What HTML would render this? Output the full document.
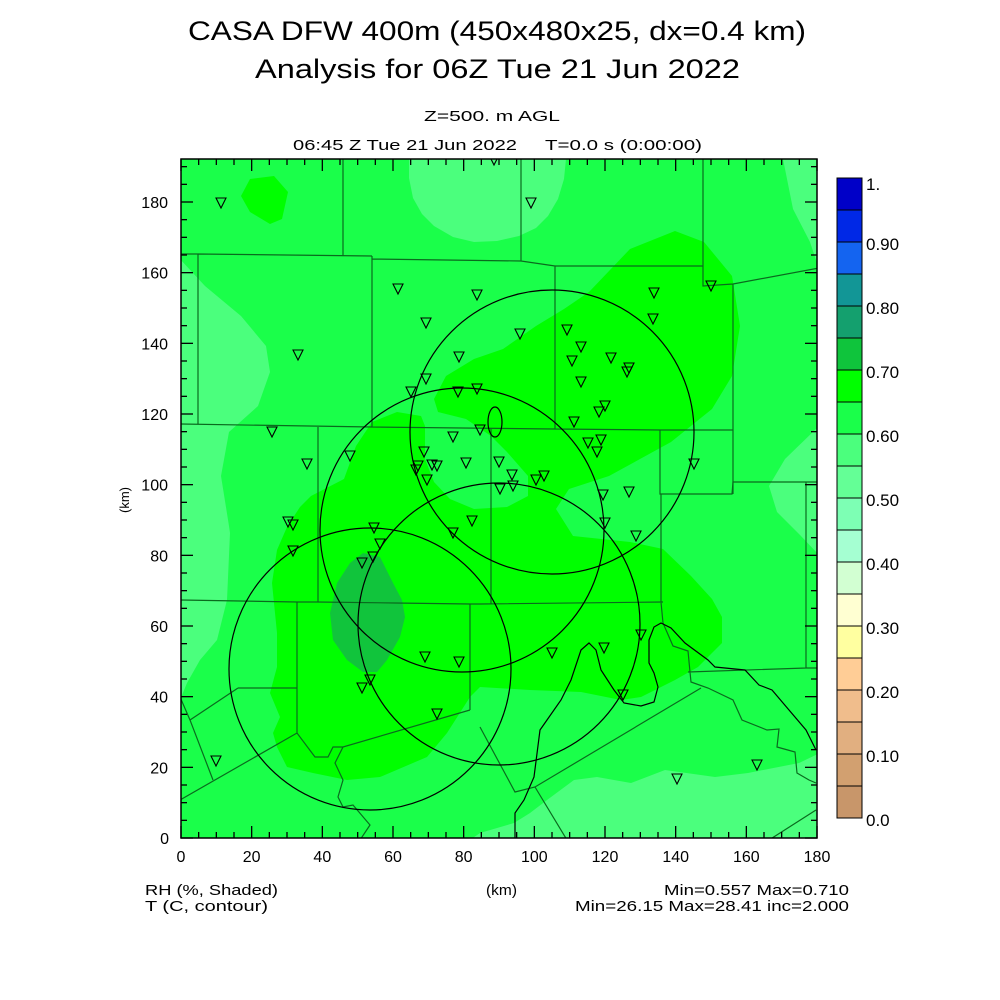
<!DOCTYPE html>
<html><head><meta charset="utf-8"><style>body{margin:0;background:#fff}svg{display:block}</style></head>
<body>
<svg width="1000" height="1000" viewBox="0 0 1000 1000" xmlns="http://www.w3.org/2000/svg" font-family="Liberation Sans, sans-serif">
<rect width="1000" height="1000" fill="#fff"/>
<g font-weight="normal" fill="#000">
<text x="188" y="40" font-size="27" textLength="618" lengthAdjust="spacingAndGlyphs">CASA DFW 400m (450x480x25, dx=0.4 km)</text>
<text x="255" y="78" font-size="27" textLength="485" lengthAdjust="spacingAndGlyphs">Analysis for 06Z Tue 21 Jun 2022</text>
<text x="424" y="121" font-size="15" textLength="136" lengthAdjust="spacingAndGlyphs">Z=500. m AGL</text>
<text x="293" y="150" font-size="15" textLength="224" lengthAdjust="spacingAndGlyphs">06:45 Z Tue 21 Jun 2022</text>
<text x="545" y="150" font-size="15" textLength="157" lengthAdjust="spacingAndGlyphs">T=0.0 s (0:00:00)</text>
</g>
<defs><clipPath id="pc"><rect x="181" y="159" width="636" height="679"/></clipPath></defs>
<g clip-path="url(#pc)">
<rect x="181" y="159" width="636" height="679" fill="#1aff4a"/>
<g fill="#4bff7d">
<path d="M409,159 L409,178 L413,198 L422,214 L434,226 L453,237 L474,242 L497,241 L519,236 L536,228 L548,216 L558,199 L564,179 L566,159Z"/>
<path d="M180,259 L205,286 L241,316 L266,346 L270,372 L258,406 L229,432 L221,476 L229,526 L230,533 L227,600 L217,640 L200,660 L187,683 L180,700Z"/>
<path d="M783,159 L793,209 L810,242 L819,269 L819,159Z"/>
<path d="M819,426 L785,459 L769,486 L777,512 L800,535 L819,555Z"/>
<path d="M820,753 L799,763 L748,773 L715,777 L665,770 L631,783 L597,777 L574,780 L547,800 L530,813 L514,823 L480,833 L470,840 L820,840Z"/>
</g>
<g fill="#00ff00">
<path d="M250,179 L274,176 L288,192 L282,219 L270,224 L250,212 L241,196Z"/>
<path d="M675,231 L704,242 L732,276 L740,326 L732,376 L712,409 L671,442 L609,476 L569,489 L556,509 L573,536 L630,542 L663,549 L691,576 L712,599 L722,617 L722,643 L698,667 L675,680 L641,697 L621,700 L581,692 L530,690 L480,687 L470,697 L447,733 L427,757 L380,777 L347,780 L313,773 L287,767 L277,747 L273,733 L280,717 L270,693 L277,667 L277,633 L272,583 L277,550 L287,527 L300,507 L311,496 L344,479 L356,446 L372,422 L397,412 L421,416 L425,426 L425,459 L434,482 L450,499 L474,509 L507,507 L528,496 L528,476 L507,452 L491,436 L466,419 L438,412 L434,399 L446,376 L474,359 L503,349 L536,326 L564,309 L589,292 L630,249Z"/>
</g>
<path fill="#11c43c" d="M363,553 L380,557 L393,583 L402,600 L405,617 L400,637 L387,660 L377,672 L363,672 L347,660 L333,640 L330,613 L337,583 L350,563Z"/>
<g fill="none" stroke="#0a6a1e" stroke-width="1.2">
<path d="M343,159 L343,256 M180,254 L198,254 L372,256 M372,259 L521,261 L555,266 L703,266 M521,159 L521,261 M372,256 L372,427 M555,266 L555,429 M703,159 L703,286 L733,284 L819,268 M733,284 L733,494 M198,254 L198,424 M180,424 L372,427 L555,429 L660,430 L733,430"/>
<path d="M318,427 L318,602 M491,429 L491,604 M660,430 L660,494 L732,494 L733,482 L806,482 L819,482 M806,482 L806,668 M480,604 L663,602 M661,494 L661,602 L663,623 L673,646 L688,651 L690,672 L691,682 L708,688 L733,700 L742,720 L767,730 L779,729 L777,747 L795,752 L797,773 L809,780 L816,783 M688,672 L806,668 L819,668"/>
<path d="M701,688 L535,787 L515,792 L480,727 M535,787 L567,840 M769,840 L816,810"/>
<path d="M180,600 L240,601 L297,602 L317,602 L395,603 L470,604 L480,604 M297,602 L297,733 M470,604 L470,710 M238,688 L297,688 M238,688 L190,720 L213,780 M180,697 L190,720 M180,800 L297,733 L315,757 L328,757 L333,747 L343,747 L470,710 M343,747 L335,763 L343,780 L338,797 L343,807 L353,805 L370,825 L360,840"/>
</g>
<g fill="none" stroke="#000" stroke-width="1.2">
<circle cx="370" cy="669" r="141"/>
<circle cx="499" cy="624" r="141"/>
<circle cx="462" cy="530" r="142"/>
<circle cx="552" cy="432" r="142"/>
<ellipse cx="495" cy="422" rx="7" ry="15"/>
<path d="M515,840 L515,813 L524,800 L534,777 L540,730 L547,720 L561,700 L571,680 L581,650 L589,643 L596,650 L601,670 L614,690 L624,703 L641,706 L654,702 L658,687 L654,673 L649,663 L649,640 L654,627 L661,623 L671,628 L685,643 L708,660 L715,667 L745,670 L759,685 L772,690 L789,710 L806,730 L816,750"/>
</g>
<g fill="none" stroke="#000" stroke-width="1.1" id="tris"></g>
</g>
<rect x="181" y="159" width="636" height="679" fill="none" stroke="#000" stroke-width="1.5"/>
<g stroke="#000" stroke-width="1.3" id="ticks"></g>
<g font-size="15" fill="#000" id="labels"></g>
<g>
<rect x="837" y="178" width="25" height="32" fill="#0000c8"/>
<rect x="837" y="210" width="25" height="32" fill="#0028e6"/>
<rect x="837" y="242" width="25" height="32" fill="#1464f0"/>
<rect x="837" y="274" width="25" height="32" fill="#129696"/>
<rect x="837" y="306" width="25" height="32" fill="#14a06e"/>
<rect x="837" y="338" width="25" height="32" fill="#0fc43c"/>
<rect x="837" y="370" width="25" height="32" fill="#00ff00"/>
<rect x="837" y="402" width="25" height="32" fill="#1aff4a"/>
<rect x="837" y="434" width="25" height="32" fill="#4bff7d"/>
<rect x="837" y="466" width="25" height="32" fill="#64ff96"/>
<rect x="837" y="498" width="25" height="32" fill="#7dffb4"/>
<rect x="837" y="530" width="25" height="32" fill="#a5ffd2"/>
<rect x="837" y="562" width="25" height="32" fill="#d2ffd2"/>
<rect x="837" y="594" width="25" height="32" fill="#ffffd2"/>
<rect x="837" y="626" width="25" height="32" fill="#ffffa0"/>
<rect x="837" y="658" width="25" height="32" fill="#ffcd96"/>
<rect x="837" y="690" width="25" height="32" fill="#f0bd8c"/>
<rect x="837" y="722" width="25" height="32" fill="#e1af80"/>
<rect x="837" y="754" width="25" height="32" fill="#d2a070"/>
<rect x="837" y="786" width="25" height="32" fill="#c8966a"/>
<g stroke="#000" stroke-width="1" fill="none" id="cbl"><rect x="837" y="178" width="25" height="640"/></g>
<g font-size="17" fill="#000">
<text x="866" y="190">1.</text>
<text x="866" y="250">0.90</text>
<text x="866" y="314">0.80</text>
<text x="866" y="378">0.70</text>
<text x="866" y="442">0.60</text>
<text x="866" y="506">0.50</text>
<text x="866" y="570">0.40</text>
<text x="866" y="634">0.30</text>
<text x="866" y="698">0.20</text>
<text x="866" y="762">0.10</text>
<text x="866" y="826">0.0</text>
</g>
</g>
<g font-size="15" fill="#000">
<text x="169" y="844" font-size="16" text-anchor="end">0</text>
<text x="117" y="512" font-size="13" transform="rotate(-90 117 500)" text-anchor="middle">(km)</text>
<text x="145" y="895" textLength="133" lengthAdjust="spacingAndGlyphs">RH (%, Shaded)</text>
<text x="145" y="911" textLength="123" lengthAdjust="spacingAndGlyphs">T (C, contour)</text>
<text x="486" y="895" textLength="31" lengthAdjust="spacingAndGlyphs">(km)</text>
<text x="664" y="895" textLength="185" lengthAdjust="spacingAndGlyphs">Min=0.557 Max=0.710</text>
<text x="575" y="911" textLength="274" lengthAdjust="spacingAndGlyphs">Min=26.15 Max=28.41 inc=2.000</text>
</g>
<script>
(function(){
var ns="http://www.w3.org/2000/svg";
function el(t,a,p){var e=document.createElementNS(ns,t);for(var k in a)e.setAttribute(k,a[k]);p.appendChild(e);return e;}
var tk=document.getElementById("ticks"),lb=document.getElementById("labels");
var s=636/180;
for(var k=0;k<=180;k+=5){var x=181+k*s,L=(k%20==0)?12:6;
el("line",{x1:x,y1:838,x2:x,y2:838-L},tk);el("line",{x1:x,y1:159,x2:x,y2:159+L},tk);}
for(var k=0;k<=192;k+=5){var y=838-k*s;if(y<159)break;var L=(k%20==0)?12:6;
el("line",{x1:181,y1:y,x2:181+L,y2:y},tk);el("line",{x1:817,y1:y,x2:817-L,y2:y},tk);}
for(var k=0;k<=180;k+=20){var x=181+k*s;var t=el("text",{x:x,y:862,"text-anchor":"middle","font-size":"16"},lb);t.textContent=k;}
for(var k=20;k<=180;k+=20){var y=838-k*s;var t=el("text",{x:168,y:y+6,"text-anchor":"end","font-size":"16"},lb);t.textContent=k;}
var tr=document.getElementById("tris");
var P=[[221,203],[531,203],[494,160],[298,355],[398,289],[477,295],[426,323],[459,357],[520,334],[567,330],[654,293],[653,319],[581,347],[572,361],[611,358],[627,372],[581,382],[629,368],[599,412],[605,406],[574,422],[601,440],[588,443],[411,392],[426,379],[477,389],[458,392],[453,437],[480,430],[499,462],[512,475],[513,486],[418,466],[427,480],[416,470],[432,465],[437,466],[466,463],[424,452],[350,456],[307,464],[272,432],[288,522],[293,525],[293,551],[374,528],[380,544],[373,557],[362,563],[453,533],[472,521],[536,480],[544,476],[603,495],[629,492],[605,523],[636,536],[694,464],[711,286],[425,657],[459,662],[552,653],[604,648],[641,635],[623,695],[437,714],[362,688],[370,680],[216,761],[677,779],[757,765],[500,489],[597,452]];
P.forEach(function(p){var x=p[0],y=p[1];el("path",{d:"M"+(x-5)+","+(y-5)+" L"+(x+5)+","+(y-5)+" L"+x+","+(y+5)+"Z"},tr);});
var cb=document.getElementById("cbl");
for(var i=1;i<20;i++){el("line",{x1:837,x2:862,y1:178+32*i,y2:178+32*i},cb);}
})();
</script>
</svg>
</body></html>
